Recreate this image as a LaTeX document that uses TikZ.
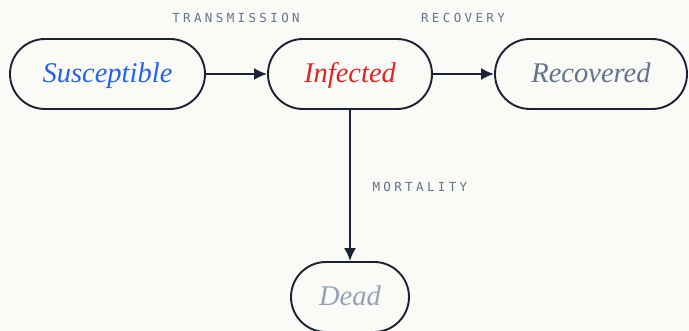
\documentclass[tikz,border=0pt]{standalone}
\usepackage{fontspec}
\setmainfont{Liberation Serif}
\newfontfamily\labelfont[LetterSpace=27]{DejaVu Sans Mono}
\usepackage{tikz}
\usetikzlibrary{arrows.meta,positioning}
\definecolor{PaperBg}{HTML}{FAFAF6}
\definecolor{InkNavy}{HTML}{1A2233}
\definecolor{SusBlue}{HTML}{2563EB}
\definecolor{InfRed}{HTML}{DC2626}
\definecolor{RecSlate}{HTML}{64748B}
\definecolor{DeadSlate}{HTML}{94A3B8}
\definecolor{LabelGrey}{HTML}{64748B}
\begin{document}
\begin{tikzpicture}[x=1pt,y=1pt,
  state/.style={draw=InkNavy,line width=1.9pt,fill=PaperBg,rounded corners=35pt,
                minimum height=70pt,inner sep=0pt,text height=21pt,text depth=4pt,
                font=\fontsize{28.5}{32}\selectfont\itshape},
  flow/.style={-{Latex[length=13pt,width=12pt]},draw=InkNavy,line width=1.9pt},
  rate/.style={font=\labelfont\fontsize{12.5}{14}\selectfont,text=LabelGrey},
]
\useasboundingbox[fill=PaperBg] (0,0) rectangle (689,331);
\node[state,minimum width=195pt,text=SusBlue] (sus) at (107.5,257) {Susceptible};
\node[state,minimum width=164pt,text=InfRed] (inf) at (350,257) {Infected};
\node[state,minimum width=192pt,text=RecSlate] (rec) at (591,257) {Recovered};
\node[state,minimum width=118pt,text=DeadSlate] (dead) at (350,34) {Dead};
\draw[flow] (sus) -- (inf);
\draw[flow] (inf) -- (rec);
\draw[flow] (inf) -- (dead);
\node[rate] (trans) at (236,313) {TRANSMISSION};
\node[rate] (recov) at (463,313) {RECOVERY};
\node[rate,anchor=west] (mort) at (369,144) {MORTALITY};
\end{tikzpicture}
\end{document}
